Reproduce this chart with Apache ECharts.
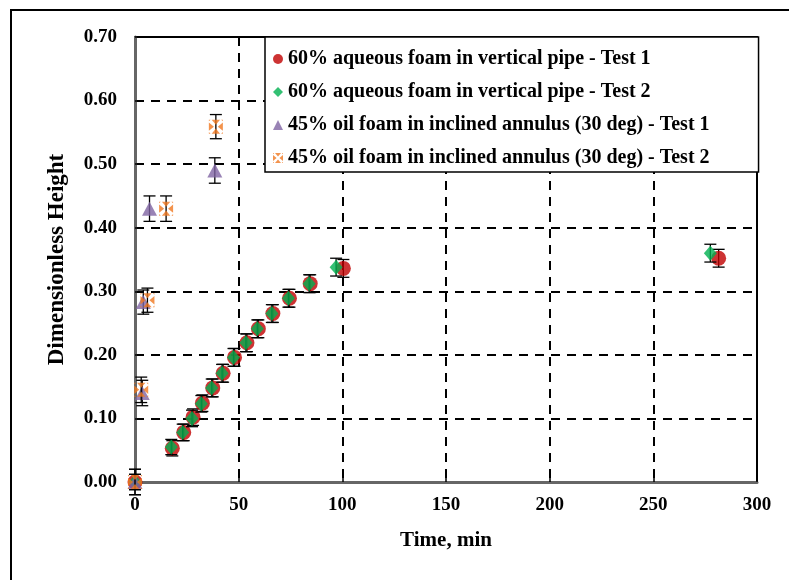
<!DOCTYPE html>
<html><head><meta charset="utf-8">
<script src="https://cdn.jsdelivr.net/npm/echarts@6/dist/echarts.min.js"></script>
<style>html,body{margin:0;padding:0;background:#fff}#c{width:789px;height:580px}</style>
</head><body><div id="c"></div>
<script>
// ---- data ----
const names = [
  '60% aqueous foam in vertical pipe - Test 1',
  '60% aqueous foam in vertical pipe - Test 2',
  '45% oil foam in inclined annulus (30 deg) - Test 1',
  '45% oil foam in inclined annulus (30 deg) - Test 2'
];
const aq1X = [0, 18, 23.5, 28, 32.5, 37.5, 42.5, 48, 54, 59.5, 66.5, 74.5, 84.5, 100.5, 281.5];
const aq1Y = [0, 0.053, 0.078, 0.102, 0.124, 0.148, 0.171, 0.196, 0.219, 0.241, 0.265, 0.289, 0.312, 0.336, 0.352];
const aq1E = [0.012, 0.012, 0.013, 0.013, 0.013, 0.014, 0.014, 0.014, 0.014, 0.014, 0.014, 0.014, 0.014, 0.014, 0.014];
const aq2X = [0, 17.5, 23, 27.5, 32, 37, 42, 47.5, 53.5, 59, 66, 74, 84, 97, 277.5];
const aq2Y = [0, 0.055, 0.078, 0.100, 0.123, 0.148, 0.171, 0.196, 0.219, 0.241, 0.265, 0.289, 0.312, 0.338, 0.360];
const aq2E = [0.012, 0.012, 0.013, 0.013, 0.013, 0.014, 0.014, 0.014, 0.014, 0.014, 0.014, 0.014, 0.014, 0.014, 0.014];
const oil1X = [0, 3.5, 4, 7, 38.5];
const oil1Y = [0, 0.14, 0.283, 0.43, 0.49];
const oil1E = [0.02, 0.02, 0.019, 0.02, 0.02];
const oil2X = [0, 3, 6, 15, 39];
const oil2Y = [0, 0.145, 0.286, 0.43, 0.559];
const oil2E = [0.02, 0.02, 0.019, 0.02, 0.019];
const xTicks = [0, 50, 100, 150, 200, 250, 300];
const yTicks = [0, 0.1, 0.2, 0.3, 0.4, 0.5, 0.6, 0.7];

const FONT = 'Liberation Serif';
function pts(xs, ys, es) { return xs.map((x, i) => [x, ys[i], es[i]]); }
const xSymbol = 'path://M2,0 L8,0 L5,3.6 Z M2,10 L8,10 L5,6.4 Z M0,2 L0,8 L3.6,5 Z M10,2 L10,8 L6.4,5 Z M0,0 L1.2,0 L0,1.2 Z M10,0 L8.8,0 L10,1.2 Z M0,10 L1.2,10 L0,8.8 Z M10,10 L8.8,10 L10,8.8 Z';

function errSeries(data, z) {
  return {
    type: 'custom', data: data, z: z, clip: false, silent: true,
    encode: { x: 0, y: 1 },
    renderItem: function (params, api) {
      const x = api.value(0), y = api.value(1), e = api.value(2);
      const t = api.coord([x, y + e]), b = api.coord([x, y - e]);
      const hw = 6, st = { stroke: '#000', lineWidth: 1.3 };
      return { type: 'group', children: [
        { type: 'line', shape: { x1: t[0], y1: t[1], x2: b[0], y2: b[1] }, style: st },
        { type: 'line', shape: { x1: t[0] - hw, y1: t[1], x2: t[0] + hw, y2: t[1] }, style: st },
        { type: 'line', shape: { x1: b[0] - hw, y1: b[1], x2: b[0] + hw, y2: b[1] }, style: st }
      ]};
    }
  };
}

const chart = echarts.init(document.getElementById('c'), null, { renderer: 'canvas' });
chart.setOption({
  animation: false,
  backgroundColor: '#fff',
  textStyle: { fontFamily: FONT },
  graphic: [{ type: 'rect', shape: { x: 11, y: 10, width: 800, height: 600 }, style: { fill: 'none', stroke: '#000', lineWidth: 2 }, z: 0 }],
  grid: { left: 135, right: 32, top: 37, bottom: 98, show: true, borderColor: '#000', borderWidth: 2, backgroundColor: 'transparent' },
  legend: {
    orient: 'vertical', left: 265, top: 37,
    data: names,
    backgroundColor: '#fff', borderColor: '#000', borderWidth: 1.5,
    padding: [12, 49, 4, 8], itemGap: 13, itemWidth: 10, itemHeight: 10,
    textStyle: { fontFamily: FONT, fontWeight: 'bold', fontSize: 20, color: '#000', lineHeight: 20 }
  },
  xAxis: {
    type: 'value', min: 0, max: 300, interval: 50,
    name: 'Time, min', nameLocation: 'middle', nameGap: 48,
    nameTextStyle: { fontFamily: FONT, fontWeight: 'bold', fontSize: 21, color: '#000' },
    axisLine: { show: true, onZero: false, lineStyle: { color: '#666', width: 3 } },
    axisTick: { show: true, inside: true, length: 6, lineStyle: { color: '#000', width: 1.5 } },
    axisLabel: { margin: 14, fontFamily: FONT, fontWeight: 'bold', fontSize: 19, color: '#000',
      formatter: v => xTicks.indexOf(v) >= 0 ? String(v) : '' },
    splitLine: { show: true, lineStyle: { color: '#000', type: [9, 7], width: 2 } }
  },
  yAxis: {
    type: 'value', min: 0, max: 0.7, interval: 0.1,
    name: 'Dimensionless Height', nameLocation: 'middle', nameGap: 66,
    nameTextStyle: { fontFamily: FONT, fontWeight: 'bold', fontSize: 23, color: '#000' },
    axisLine: { show: true, onZero: false, lineStyle: { color: '#666', width: 3 } },
    axisTick: { show: true, inside: true, length: 6, lineStyle: { color: '#000', width: 1.5 } },
    axisLabel: { margin: 18, fontFamily: FONT, fontWeight: 'bold', fontSize: 19, color: '#000',
      formatter: v => { const t = yTicks.find(k => Math.abs(k - v) < 1e-9); return t === undefined ? '' : t.toFixed(2); } },
    splitLine: { show: true, lineStyle: { color: '#000', type: [9, 7], width: 2 } }
  },
  series: [
    errSeries(pts(aq1X, aq1Y, aq1E), 3),
    { name: names[0], type: 'scatter', z: 4, clip: false, data: pts(aq1X, aq1Y, aq1E), symbol: 'circle', symbolSize: 15, itemStyle: { color: '#C00000' } },
    errSeries(pts(aq2X, aq2Y, aq2E), 5),
    { name: names[1], type: 'scatter', z: 6, clip: false, data: pts(aq2X, aq2Y, aq2E), symbol: 'diamond', symbolSize: [13, 15], itemStyle: { color: '#00B050' } },
    errSeries(pts(oil1X, oil1Y, oil1E), 7),
    { name: names[2], type: 'scatter', z: 8, clip: false, data: pts(oil1X, oil1Y, oil1E), symbol: 'triangle', symbolSize: [15, 14], itemStyle: { color: '#8064A2' } },
    errSeries(pts(oil2X, oil2Y, oil2E), 9),
    { name: names[3], type: 'scatter', z: 10, clip: false, data: pts(oil2X, oil2Y, oil2E), symbol: xSymbol, symbolSize: 14, itemStyle: { color: '#F07820' } }
  ]
});
</script></body></html>
